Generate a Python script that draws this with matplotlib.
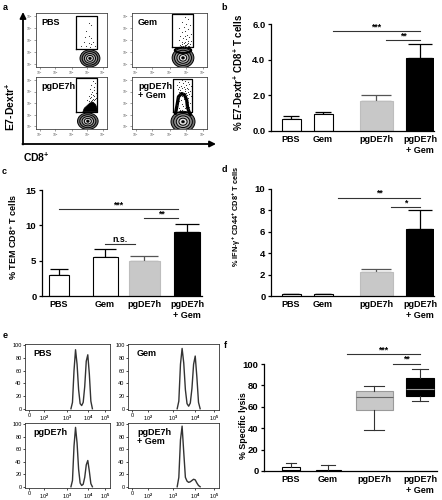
import matplotlib
matplotlib.use("Agg")
import matplotlib.pyplot as plt
from matplotlib.patches import Ellipse, Polygon

plt.rcParams['font.family'] = ['Liberation Sans', 'DejaVu Sans']
plt.rcParams['font.weight'] = 'bold'
plt.rcParams['mathtext.fontset'] = 'custom'
plt.rcParams['mathtext.rm'] = 'Liberation Sans:bold'
plt.rcParams['mathtext.bf'] = 'Liberation Sans:bold'
plt.rcParams['mathtext.default'] = 'bf'

W, H = 442, 500
fig = plt.figure(figsize=(W / 100, H / 100), dpi=100)

# ---------------- data ----------------
groups = ["PBS", "Gem", "pgDE7h", "pgDE7h\n+ Gem"]
bar_colors = ["white", "white", "#c8c8c8", "black"]

dextr_vals = [0.68, 0.93, 1.67, 4.12]
dextr_errs = [0.15, 0.16, 0.34, 0.78]
dextr_sig = [(1, 3, 5.6, "***"), (2, 3, 5.1, "**")]

tem_vals = [2.97, 5.57, 4.95, 9.10]
tem_errs = [0.80, 1.08, 0.75, 1.10]
tem_sig = [(0, 3, 12.3, "***"), (2, 3, 11.0, "**"), (1, 2, 7.4, "n.s.")]

ifn_vals = [0.20, 0.20, 2.20, 6.25]
ifn_errs = [0.02, 0.02, 0.36, 1.75]
ifn_sig = [(1, 3, 9.2, "**"), (2, 3, 8.3, "*")]

lysis_whislo = [0.0, 0.0, 38.0, 65.0]
lysis_q1 = [0.0, 0.0, 57.0, 70.0]
lysis_med = [1.0, 0.3, 68.8, 76.5]
lysis_q3 = [4.0, 1.0, 75.0, 87.0]
lysis_whishi = [7.8, 5.6, 79.7, 95.0]
lysis_sig = [(1, 3, 109.0, "***"), (2, 3, 100.0, "**")]

flow_names = ["PBS", "Gem", "pgDE7h", "pgDE7h\n+ Gem"]
flow_ticklabels = ["10$^1$", "10$^2$", "10$^3$", "10$^4$", "10$^5$"]
pbs_dot_x = [0.74, 0.77, 0.71, 0.69, 0.75, 0.77, 0.67, 0.74, 0.78, 0.70, 0.64, 0.76, 0.83, 0.80]
pbs_dot_y = [0.81, 0.78, 0.67, 0.56, 0.57, 0.53, 0.47, 0.44, 0.42, 0.39, 0.38, 0.37, 0.38, 0.47]
gem_dot_x = [0.70, 0.74, 0.66, 0.72, 0.77, 0.69, 0.63, 0.75, 0.71, 0.67, 0.78, 0.73, 0.64, 0.70,
             0.76, 0.68, 0.72, 0.62, 0.74, 0.79, 0.66, 0.71, 0.69, 0.75, 0.73, 0.67, 0.77, 0.64,
             0.70, 0.72, 0.74, 0.68, 0.76, 0.65, 0.71, 0.69, 0.73, 0.78, 0.66, 0.72]
gem_dot_y = [0.92, 0.88, 0.84, 0.80, 0.78, 0.74, 0.72, 0.70, 0.66, 0.64, 0.62, 0.60, 0.58, 0.57,
             0.55, 0.53, 0.52, 0.50, 0.49, 0.48, 0.47, 0.46, 0.44, 0.44, 0.43, 0.42, 0.42, 0.41,
             0.40, 0.40, 0.39, 0.39, 0.38, 0.38, 0.38, 0.37, 0.37, 0.37, 0.36, 0.36]
pg_dot_x = [0.80, 0.83, 0.78, 0.82, 0.76, 0.81, 0.79, 0.84, 0.77, 0.80, 0.74, 0.82, 0.78, 0.85,
            0.76, 0.80, 0.83, 0.72, 0.79, 0.81, 0.77, 0.75]
pg_dot_y = [0.93, 0.88, 0.84, 0.80, 0.77, 0.75, 0.72, 0.70, 0.68, 0.66, 0.64, 0.63, 0.61, 0.60,
            0.59, 0.58, 0.57, 0.56, 0.55, 0.55, 0.54, 0.53]
pgg_dot_x = [0.66, 0.70, 0.62, 0.74, 0.68, 0.76, 0.60, 0.72, 0.65, 0.78, 0.69, 0.63, 0.73, 0.67,
             0.75, 0.61, 0.71, 0.64, 0.77, 0.70, 0.66, 0.74, 0.62, 0.68, 0.72, 0.76, 0.64, 0.70,
             0.73, 0.67, 0.78, 0.61, 0.75, 0.69, 0.65, 0.71, 0.63, 0.74, 0.77, 0.66, 0.60, 0.72,
             0.68, 0.76, 0.62, 0.70, 0.74, 0.64, 0.67, 0.73]
pgg_dot_y = [0.94, 0.92, 0.90, 0.90, 0.88, 0.86, 0.85, 0.84, 0.83, 0.82, 0.81, 0.80, 0.79, 0.78,
             0.77, 0.76, 0.76, 0.75, 0.74, 0.73, 0.72, 0.72, 0.71, 0.70, 0.69, 0.68, 0.67, 0.66,
             0.65, 0.64, 0.63, 0.62, 0.60, 0.58, 0.56, 0.55, 0.53, 0.52, 0.50, 0.48, 0.46, 0.45,
             0.44, 0.42, 0.41, 0.40, 0.38, 0.37, 0.36, 0.35]

hist_names = ["PBS", "Gem", "pgDE7h", "pgDE7h\n+ Gem"]
hist_ticklabels = ["0", "10$^2$", "10$^3$", "10$^4$", "10$^5$"]
hist_x = [0.55, 0.57, 0.59, 0.61, 0.63, 0.65, 0.67, 0.69, 0.71, 0.73, 0.75, 0.77, 0.79, 0.81, 0.83]
hist_pbs = [0, 10, 60, 93, 70, 30, 8, 5, 10, 35, 75, 85, 55, 12, 0]
hist_gem = [0, 12, 70, 95, 72, 30, 8, 4, 9, 32, 70, 83, 50, 10, 0]
hist_pg = [0, 10, 65, 95, 70, 28, 6, 2, 4, 15, 35, 42, 25, 5, 0]
hist_pgg = [0, 15, 75, 97, 55, 15, 9, 7, 8, 10, 12, 11, 6, 2, 0]

# ---------------- layout helpers ----------------
def px(l, t, r, b):
    return [l / W, 1 - b / H, (r - l) / W, (b - t) / H]

ov = fig.add_axes([0, 0, 1, 1], zorder=20)
ov.set_xlim(0, W)
ov.set_ylim(H, 0)
ov.axis("off")
ov.patch.set_alpha(0)

for letter, (lx, ly) in zip("abcdef", [(5, 8), (224, 8), (4, 171), (224, 170), (5, 335), (225, 346)]):
    ov.text(lx, ly, letter, fontsize=6.5, fontweight="bold", ha="center", va="center")

# ---------------- panel a ----------------
ov.annotate("", xy=(23, 12), xytext=(23, 144.5),
            arrowprops=dict(arrowstyle="-|>", lw=1.3, color="black", mutation_scale=9,
                            shrinkA=0, shrinkB=0))
ov.annotate("", xy=(216, 144), xytext=(22.4, 144),
            arrowprops=dict(arrowstyle="-|>", lw=1.3, color="black", mutation_scale=9,
                            shrinkA=0, shrinkB=0))
ov.text(10, 107, "E7-Dextr$^{+}$", rotation=90, fontsize=7.5, ha="center", va="center")
ov.text(36, 157, "CD8$^{+}$", fontsize=7.5, ha="center", va="center")

flow_boxes = [(36, 13, 107, 67), (132, 13, 207, 67), (36, 77, 107, 129), (132, 77, 207, 129)]
gates = [(0.56, 0.86, 0.33, 0.94), (0.53, 0.81, 0.37, 0.98),
         (0.56, 0.86, 0.33, 0.98), (0.55, 0.80, 0.33, 0.96)]
contours = [(0.76, 0.16, 0.28, 0.32), (0.68, 0.17, 0.29, 0.36),
            (0.73, 0.15, 0.29, 0.32), (0.68, 0.14, 0.32, 0.40)]
dots = [(pbs_dot_x, pbs_dot_y), (gem_dot_x, gem_dot_y), (pg_dot_x, pg_dot_y), (pgg_dot_x, pgg_dot_y)]
tick_pos = [0.05, 0.27, 0.5, 0.72, 0.94]
for i, box in enumerate(flow_boxes):
    ax = fig.add_axes(px(*box))
    ax.set_xlim(0, 1)
    ax.set_ylim(0, 1)
    for s in ax.spines.values():
        s.set_linewidth(0.6)
        s.set_color("#444444")
    ax.set_xticks(tick_pos, flow_ticklabels)
    ax.set_yticks(tick_pos, flow_ticklabels)
    ax.tick_params(labelsize=2.3, length=1.2, width=0.4, pad=0.8, colors="#555555")
    for lab in ax.get_xticklabels() + ax.get_yticklabels():
        lab.set_fontweight("normal")
    cx, cy, cw, ch = contours[i]
    for s, col in [(1.0, "#707070"), (0.78, "#8f8f8f"), (0.56, "#b8b8b8"), (0.34, "#e6e6e6")]:
        ax.add_patch(Ellipse((cx, cy), cw * s, ch * s, fc=col, ec="black", lw=0.7, zorder=2))
    ax.add_patch(Ellipse((cx, cy), 0.04, 0.05, fc="black", ec="black", lw=0.3, zorder=3))
    if i == 2:
        ax.add_patch(Polygon([(0.66, 0.33), (0.68, 0.40), (0.72, 0.45), (0.76, 0.50), (0.80, 0.52),
                              (0.84, 0.47), (0.86, 0.40), (0.86, 0.33)], closed=True,
                             fc="black", ec="black", lw=0.5, zorder=3))
    if i == 1:
        ax.add_patch(Ellipse((cx, cy + 0.14), 0.22, 0.1, fc="none", ec="black", lw=1.4, zorder=3))
    if i == 3:
        ax.plot([0.58, 0.60, 0.62, 0.66, 0.70, 0.73, 0.74, 0.76, 0.78],
                [0.30, 0.45, 0.62, 0.68, 0.66, 0.55, 0.42, 0.33, 0.28],
                color="black", lw=2.4, zorder=3, solid_capstyle="round")
    gx0, gx1, gy0, gy1 = gates[i]
    ax.plot([gx0, gx0, gx1, gx1, gx0], [gy0, gy1, gy1, gy0, gy0], color="black", lw=0.9, zorder=4)
    ax.scatter(dots[i][0], dots[i][1], s=0.6, color="#222222", linewidths=0, zorder=5)
    ax.text(0.08, 0.9, flow_names[i], transform=ax.transAxes, fontsize=6.5,
            fontweight="bold", ha="left", va="top", linespacing=1.0)

# ---------------- bar panels ----------------
def style_axes(ax):
    for s in ["top", "right"]:
        ax.spines[s].set_visible(False)
    for s in ["left", "bottom"]:
        ax.spines[s].set_linewidth(0.9)
    ax.tick_params(axis="x", length=0, labelsize=6.5, pad=3)
    ax.tick_params(axis="y", length=2.5, width=0.9, labelsize=6.8, pad=1.5)

def sig_lines(ax, sig, centers, offset):
    for a, b, y, txt in sig:
        x0 = centers[a] + offset[0]
        x1 = centers[b] - offset[1]
        ax.plot([x0, x1], [y, y], color="#333333", lw=0.8, clip_on=False)
        ax.text((x0 + x1) / 2, y, txt, ha="center", va="bottom", fontsize=6.3,
                fontweight="bold", clip_on=False)

def bar_panel(box, vals, errs, centers, widths, ylim, yticks, yticklabels, ylabel,
              ylabel_xy, ylabel_fs, sig, sig_off):
    l, t, r, b = box
    ax = fig.add_axes(px(*box))
    ax.set_xlim(0, r - l)
    ax.set_ylim(*ylim)
    ax.bar(centers, vals, width=widths, color=bar_colors,
           edgecolor=["black", "black", "#bdbdbd", "black"], linewidth=0.8, zorder=2)
    for c, v, e, w, col in zip(centers, vals, errs, widths, ["black", "black", "#555555", "black"]):
        ax.errorbar(c, v, yerr=[[0], [e]], fmt="none", ecolor=col, elinewidth=0.9,
                    capsize=w * 0.32, capthick=0.9, zorder=1)
    style_axes(ax)
    ax.set_xticks(centers, groups)
    ax.set_yticks(yticks, yticklabels)
    for lab in ax.get_xticklabels():
        lab.set_multialignment("center")
    ov.text(ylabel_xy[0], ylabel_xy[1], ylabel, rotation=90, fontsize=ylabel_fs,
            ha="center", va="center")
    sig_lines(ax, sig, centers, sig_off)
    return ax

# panel b
bar_panel((271, 24, 434, 131), dextr_vals, dextr_errs, [20, 52, 105, 149], [19, 19, 33, 28],
          (0, 6), [0, 2, 4, 6], ["0.0", "2.0", "4.0", "6.0"],
          "% E7-Dextr$^{+}$ CD8$^{+}$ T cells", (238, 72), 7.0, dextr_sig, (10, 0))
# panel c
bar_panel((42, 190, 202, 296), tem_vals, tem_errs, [17, 63, 102, 145], [20, 25, 31, 26],
          (0, 15), [0, 5, 10, 15], ["0", "5", "10", "15"],
          "% TEM CD8$^{+}$ T cells", (13, 237), 6.5, tem_sig, (0, 9))
# panel d
bar_panel((271, 189, 434, 296), ifn_vals, ifn_errs, [20, 52, 105, 149], [19, 19, 33, 28],
          (0, 10), [0, 2, 4, 6, 8, 10], ["0", "2", "4", "6", "8", "10"],
          "% IFN-γ$^{+}$ CD44$^{+}$ CD8$^{+}$ T cells", (237, 216), 5.3, ifn_sig, (15, 0))

# ---------------- panel e ----------------
hist_boxes = [(25, 344, 110, 410), (128, 344, 219, 410), (25, 423, 110, 488), (128, 423, 219, 488)]
hist_data = [hist_pbs, hist_gem, hist_pg, hist_pgg]
htick = [0, 0.2, 0.5, 0.77, 1.0]
for i, box in enumerate(hist_boxes):
    ax = fig.add_axes(px(*box))
    ax.set_xlim(-0.05, 1.06)
    ax.set_ylim(-2, 102)
    ax.plot(hist_x, hist_data[i], color="#333333", lw=1.0)
    ax.set_xticks(htick, hist_ticklabels)
    ax.set_yticks([0, 20, 40, 60, 80, 100])
    ax.tick_params(labelsize=4.0, length=1.5, width=0.5, pad=1)
    for lab in ax.get_xticklabels() + ax.get_yticklabels():
        lab.set_fontweight("normal")
    for s in ax.spines.values():
        s.set_linewidth(0.6)
        s.set_color("#333333")
    ax.text(0.1, 0.93, hist_names[i], transform=ax.transAxes, fontsize=6.5,
            fontweight="bold", ha="left", va="top", linespacing=1.0)

# ---------------- panel f ----------------
fl, ft, fr, fb = 264, 364, 437, 471
axf = fig.add_axes(px(fl, ft, fr, fb))
axf.set_xlim(0, fr - fl)
axf.set_ylim(0, 100)
f_centers = [27, 64, 110, 156]
f_widths = [18, 25, 37, 28]
stats = []
for i in range(4):
    stats.append(dict(med=lysis_med[i], q1=lysis_q1[i], q3=lysis_q3[i],
                      whislo=lysis_whislo[i], whishi=lysis_whishi[i], fliers=[]))
bp = axf.bxp(stats, positions=f_centers, widths=f_widths, patch_artist=True,
             showfliers=False, manage_ticks=False,
             boxprops=dict(linewidth=0.8),
             whiskerprops=dict(linewidth=0.8, color="#333333"),
             capprops=dict(linewidth=0.8, color="#333333"),
             medianprops=dict(linewidth=0.8))
face = ["white", "white", "#c8c8c8", "black"]
edge = ["black", "black", "#9a9a9a", "black"]
medc = ["black", "black", "#666666", "#9a9a9a"]
for i in range(4):
    bp["boxes"][i].set_facecolor(face[i])
    bp["boxes"][i].set_edgecolor(edge[i])
    bp["medians"][i].set_color(medc[i])
for i, cap in enumerate(bp["caps"]):
    xd = cap.get_xdata()
    c = (xd[0] + xd[1]) / 2
    hw = f_widths[i // 2] * 0.28
    cap.set_xdata([c - hw, c + hw])
style_axes(axf)
axf.set_xticks(f_centers, groups)
for lab in axf.get_xticklabels():
    lab.set_multialignment("center")
axf.set_yticks([0, 20, 40, 60, 80, 100])
ov.text(243, 426, "% Specific lysis", rotation=90, fontsize=6.4, ha="center", va="center")
sig_lines(axf, lysis_sig, f_centers, (19, 0))

fig.savefig("out.png", dpi=100)
